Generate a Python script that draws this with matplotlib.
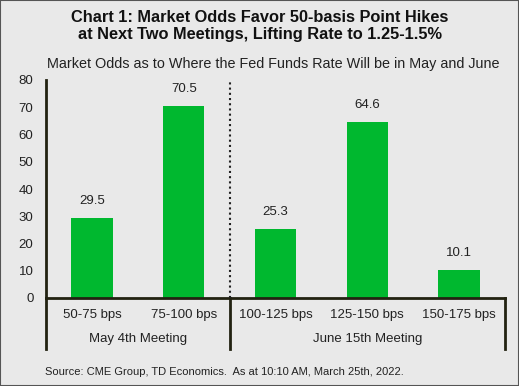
import matplotlib
matplotlib.use("Agg")
import matplotlib.pyplot as plt
from matplotlib.patches import Rectangle

categories = ["50-75 bps", "75-100 bps", "100-125 bps", "125-150 bps", "150-175 bps"]
values = [29.5, 70.5, 25.3, 64.6, 10.1]
groups = ["May 4th Meeting", "June 15th Meeting"]
group_sizes = [2, 3]
yticks = [0, 10, 20, 30, 40, 50, 60, 70, 80]

plt.rcParams['font.family'] = ['Liberation Sans', 'DejaVu Sans']
W, H = 519, 386
fig = plt.figure(figsize=(W/100, H/100), dpi=100)
bg = "#e9e9e9"
fig.patch.set_facecolor(bg)
fig.patches.append(Rectangle((0, 0), 1, 1, transform=fig.transFigure, fill=False,
                             edgecolor="#555555", linewidth=1.5))

ax_l, ax_r, ax_b, ax_t = 46, 505, 298, 80
ax = fig.add_axes([ax_l/W, 1-ax_b/H, (ax_r-ax_l)/W, (ax_b-ax_t)/H])
ax.set_facecolor(bg)
x = list(range(len(categories)))
ax.bar(x, values, width=0.45, color="#00b82f", zorder=2)
for xi, v in zip(x, values):
    ax.annotate(f"{v:.1f}", (xi, v), xytext=(0, 8), textcoords="offset points",
                ha="center", va="bottom", fontsize=9.5, color="#222222")
ax.set_xlim(-0.5, len(categories) - 0.5)
ax.set_ylim(0, 80)
ax.set_yticks(yticks)
ax.set_yticklabels([str(t) for t in yticks], fontsize=9.5, color="#222222")
ax.tick_params(axis='y', length=0, pad=9)
ax.tick_params(axis='x', length=0, pad=8)
ax.set_xticks(x)
ax.set_xticklabels(categories, fontsize=9.5, color="#222222")
for s in ["top", "right"]:
    ax.spines[s].set_visible(False)
for s in ["left", "bottom"]:
    ax.spines[s].set_color("#222211")
    ax.spines[s].set_linewidth(2)

# divider & group labels
pos = -0.5
bounds = [pos]
for g, n in zip(groups, group_sizes):
    ax.text(pos + n/2, -0.188, g, transform=ax.get_xaxis_transform(), ha="center",
            va="center", fontsize=9.5, color="#222222")
    pos += n
    bounds.append(pos)
for b in bounds:
    ax.plot([b, b], [0, -0.234], transform=ax.get_xaxis_transform(),
            color="#222211", linewidth=2, clip_on=False)
ax.plot([bounds[1], bounds[1]], [0, 1], transform=ax.get_xaxis_transform(),
        color="#222222", linewidth=1.5, linestyle=(0, (1, 1.5)), zorder=3)

fig.text(0.5, 1-26/H, "Chart 1: Market Odds Favor 50-basis Point Hikes\nat Next Two Meetings, Lifting Rate to 1.25-1.5%",
         ha="center", va="center", fontsize=11.8, fontweight="bold", color="#111111",
         linespacing=1.15)
fig.text(273/W, 1-64/H, "Market Odds as to Where the Fed Funds Rate Will be in May and June",
         ha="center", va="center", fontsize=10.4, color="#222222")
fig.text(45/W, 1-372/H, "Source: CME Group, TD Economics.  As at 10:10 AM, March 25th, 2022.",
         ha="left", va="center", fontsize=8.0, color="#222222")

fig.savefig("out.png", dpi=100, facecolor=bg)
